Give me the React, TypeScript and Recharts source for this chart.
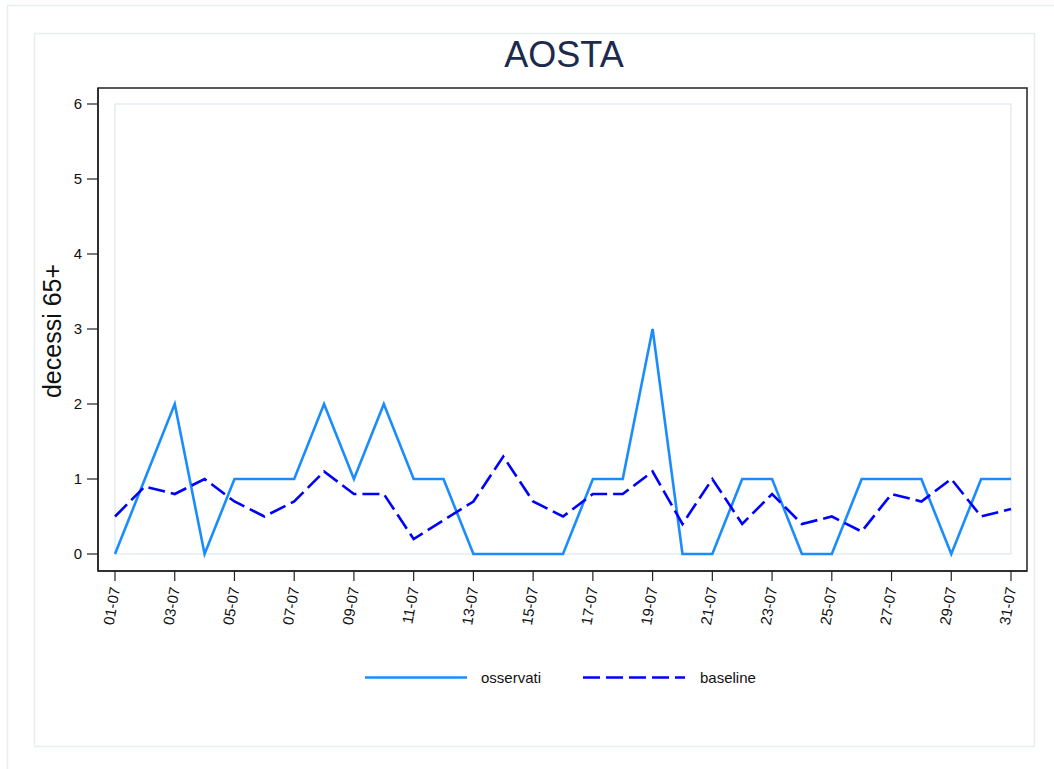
import React from 'react';
import { LineChart, Line, XAxis, YAxis, ReferenceArea } from 'recharts';

const dates = [
  '01-07', '02-07', '03-07', '04-07', '05-07', '06-07', '07-07', '08-07', '09-07', '10-07',
  '11-07', '12-07', '13-07', '14-07', '15-07', '16-07', '17-07', '18-07', '19-07', '20-07',
  '21-07', '22-07', '23-07', '24-07', '25-07', '26-07', '27-07', '28-07', '29-07', '30-07', '31-07',
];
const osservati = [0, 1, 2, 0, 1, 1, 1, 2, 1, 2, 1, 1, 0, 0, 0, 0, 1, 1, 3, 0, 0, 1, 1, 0, 0, 1, 1, 1, 0, 1, 1];
const baseline = [0.5, 0.9, 0.8, 1.0, 0.7, 0.5, 0.7, 1.1, 0.8, 0.8, 0.2, 0.45, 0.7, 1.3, 0.7, 0.5, 0.8, 0.8, 1.1, 0.4, 1.0, 0.4, 0.8, 0.4, 0.5, 0.3, 0.8, 0.7, 1.0, 0.5, 0.6];
const yTicks = [0, 1, 2, 3, 4, 5, 6];

const data = dates.map((d, i) => ({ date: d, osservati: osservati[i], baseline: baseline[i] }));

const FONT = '"Liberation Sans", Arial, Helvetica, sans-serif';
const OBS_COLOR = '#1a8cff';
const BASE_COLOR = '#0000ff';

const XTick = (props: any) => {
  const { x, y, payload } = props;
  return (
    <g transform={`translate(${x},${y + 2}) rotate(-80)`}>
      <text textAnchor="end" dy="0.35em" fontSize={15} fontFamily={FONT} fill="#111">
        {payload.value}
      </text>
    </g>
  );
};

export default function App() {
  return (
    <div style={{ position: 'absolute', left: 0, top: 0, width: 1054, height: 769, background: '#fff', overflow: 'hidden' }}>
      <LineChart width={1054} height={769} data={data} margin={{ top: 88, right: 27, bottom: 0, left: 38 }}>
        <ReferenceArea x1="01-07" x2="31-07" y1={0} y2={6} fill="none" stroke="#e4ecf0" strokeWidth={1.5} ifOverflow="visible" />
        <XAxis
          dataKey="date"
          interval={1}
          height={198}
          padding={{ left: 17, right: 16 }}
          tickSize={10}
          tickMargin={4}
          axisLine={{ stroke: '#222', strokeWidth: 1.5 }}
          tickLine={{ stroke: '#222', strokeWidth: 1.2 }}
          tick={<XTick />}
        />
        <YAxis
          type="number"
          domain={[0, 6]}
          ticks={yTicks}
          width={60}
          padding={{ top: 16, bottom: 17 }}
          tickSize={11}
          tickMargin={5}
          axisLine={{ stroke: '#222', strokeWidth: 1.5 }}
          tickLine={{ stroke: '#222', strokeWidth: 1.2 }}
          tick={{ fontSize: 15, fontFamily: FONT, fill: '#111' }}
        />
        <Line type="linear" dataKey="osservati" stroke={OBS_COLOR} strokeWidth={2.6} dot={false} isAnimationActive={false} />
        <Line type="linear" dataKey="baseline" stroke={BASE_COLOR} strokeWidth={2.6} strokeDasharray="17 6" dot={false} isAnimationActive={false} />
      </LineChart>
      <svg width={1054} height={769} style={{ position: 'absolute', left: 0, top: 0, pointerEvents: 'none' }}>
        <rect x={7.5} y={5.5} width={1100} height={800} fill="none" stroke="#e6eeee" strokeWidth={1.5} />
        <rect x={34.5} y={33.5} width={1000} height={713} fill="none" stroke="#e6eeee" strokeWidth={1.5} />
        <rect x={98} y={88} width={929} height={483} fill="none" stroke="#222" strokeWidth={1.5} />
        <text x={564} y={67} textAnchor="middle" fontSize={36} fontFamily={FONT} fill="#1c2b4d">AOSTA</text>
        <text transform="translate(61,331) rotate(-90)" textAnchor="middle" fontSize={25} fontFamily={FONT} fill="#111">decessi 65+</text>
        <line x1={365} y1={677.5} x2={467} y2={677.5} stroke={OBS_COLOR} strokeWidth={2.6} />
        <text x={481} y={683} fontSize={15} fontFamily={FONT} fill="#111">osservati</text>
        <line x1={583} y1={677.5} x2={685} y2={677.5} stroke={BASE_COLOR} strokeWidth={2.6} strokeDasharray="17 6" />
        <text x={700} y={683} fontSize={15} fontFamily={FONT} fill="#111">baseline</text>
      </svg>
    </div>
  );
}
